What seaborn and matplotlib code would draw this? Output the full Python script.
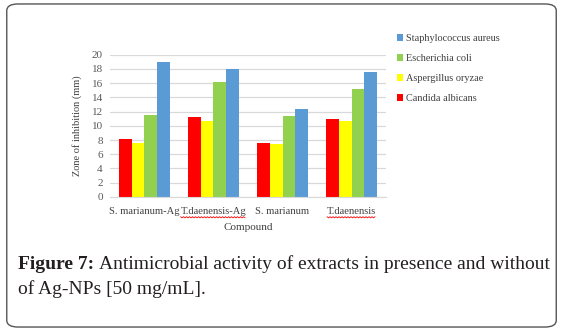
import matplotlib
matplotlib.use("Agg")
import matplotlib.pyplot as plt
from matplotlib.patches import FancyBboxPatch, Patch
from matplotlib.lines import Line2D
import numpy as np
import pandas as pd
import seaborn as sns

compounds = ["S. marianum-Ag", "T.daenensis-Ag", "S. marianum", "T.daenensis"]
organisms = ["Candida albicans", "Aspergillus oryzae", "Escherichia coli", "Staphylococcus aureus"]
candida = [8.1, 11.2, 7.6, 11.0]
aspergillus = [7.6, 10.7, 7.5, 10.7]
ecoli = [11.5, 16.2, 11.4, 15.2]
staph = [19.0, 18.0, 12.3, 17.6]
colors = ["#FF0000", "#FFFF00", "#92D050", "#5B9BD5"]
yticks = list(range(0, 21, 2))

rows = []
for org, vals in zip(organisms, [candida, aspergillus, ecoli, staph]):
    for comp, v in zip(compounds, vals):
        rows.append({"Compound": comp, "Organism": org, "Zone": v})
df = pd.DataFrame(rows)

sns.set_style("white")
plt.rcParams["font.family"] = ["Liberation Serif", "DejaVu Serif"]

fig = plt.figure(figsize=(5.63, 3.31), dpi=100)
ax = fig.add_axes([0.195, 0.405, 0.491, 0.43])

sns.barplot(data=df, x="Compound", y="Zone", hue="Organism",
            hue_order=organisms, palette=colors, width=0.74,
            saturation=1, ax=ax, legend=False, linewidth=0)

ax.set_ylim(0, 20)
ax.set_yticks(yticks)
ax.set_yticklabels([str(t) for t in yticks], fontsize=8, color="#595959")
ax.tick_params(axis="x", labelsize=7.6, colors="#404040", length=0, pad=7)
ax.tick_params(axis="y", length=0, pad=5)
ax.yaxis.grid(True, color="#D9D9D9", linewidth=0.9)
ax.set_axisbelow(True)
for s in ["top", "right", "left"]:
    ax.spines[s].set_visible(False)
ax.spines["bottom"].set_color("#D9D9D9")
ax.set_xlabel("Compound", fontsize=8, color="#404040", labelpad=5)
ax.set_ylabel("Zone of inhibition (mm)", fontsize=7.5, color="#404040", labelpad=7)

handles = [Patch(facecolor=c, edgecolor="none") for c in colors][::-1]
labels = organisms[::-1]
fig.legend(handles, labels, loc="upper left", bbox_to_anchor=(0.688, 0.925),
           frameon=False, fontsize=7.4, labelcolor="#404040",
           handlelength=0.6, handleheight=0.6, handletextpad=0.35,
           labelspacing=1.08)

cap_y1, cap_y2 = 0.188, 0.112
head = fig.text(0.032, cap_y1, "Figure 7:", fontsize=14, fontweight="bold", color="#231F20")
fig.text(0.032, cap_y2, "of Ag-NPs [50 mg/mL].", fontsize=14, color="#231F20")

fig.canvas.draw()
renderer = fig.canvas.get_renderer()
hb = head.get_window_extent(renderer)
fig.text(hb.x1 / fig.bbox.width + 0.008, cap_y1,
         "Antimicrobial activity of extracts in presence and without",
         fontsize=14, color="#231F20")

# wavy spell-check underline beneath the T.daenensis labels
for lbl in ax.get_xticklabels():
    if lbl.get_text().startswith("T.daenensis"):
        bb = lbl.get_window_extent(renderer)
        xs = np.arange(bb.x0, bb.x1, 1.5)
        ys = bb.y0 - 1.0 + np.where(np.arange(len(xs)) % 2 == 0, 0.0, -1.2)
        fig.add_artist(Line2D(xs / fig.bbox.width, ys / fig.bbox.height,
                              transform=fig.transFigure, color="#FF0000",
                              linewidth=0.6))

border = FancyBboxPatch((0.012, 0.012), 0.976, 0.976,
                        boxstyle="round,pad=0,rounding_size=0.02",
                        transform=fig.transFigure, fill=False,
                        edgecolor="#555555", linewidth=1.0)
fig.patches.append(border)

fig.savefig("out.png", dpi=100)
